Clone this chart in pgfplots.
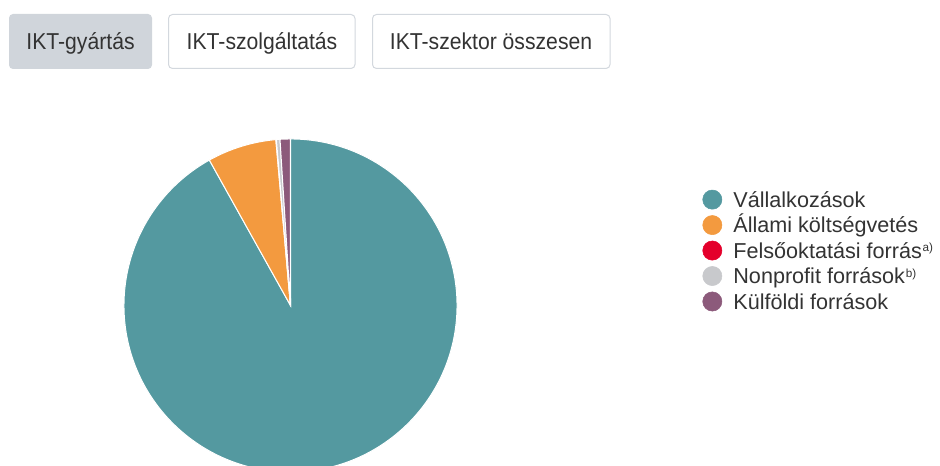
\documentclass[border=0pt]{standalone}
\usepackage{pgfplots}
\pgfplotsset{compat=1.18}
\usepackage{pgfplotstable}
\usepackage{fontspec}
\setmainfont{Liberation Sans}
\newfontfamily\btnfont[FakeStretch=0.92]{Liberation Sans}

\definecolor{cteal}{HTML}{5499A0}
\definecolor{corange}{HTML}{F39A3F}
\definecolor{cred}{HTML}{E4002B}
\definecolor{cgray}{HTML}{C8C9CC}
\definecolor{cpurple}{HTML}{8C5A7B}
\definecolor{ctext}{HTML}{333333}
\definecolor{btnfill}{HTML}{D0D5DB}
\definecolor{btnline}{HTML}{D3D8DE}

% shares (%) of the IKT-gyartas R&D funding sources
\pgfplotstableread{
share
91.9
6.7
0.05
0.35
1.0
}\sharetable

\newcommand\getshare[2]{\pgfplotstablegetelem{#1}{share}\of\sharetable\global\let#2\pgfplotsretval}
\getshare{0}\sA \getshare{1}\sB \getshare{2}\sC \getshare{3}\sD \getshare{4}\sE
\pgfmathsetmacro\total{\sA+\sB+\sC+\sD+\sE}
% angles: start at top, clockwise
\pgfmathsetmacro\aA{90}
\pgfmathsetmacro\aB{\aA-3.6*(\sA/\total)*100}
\pgfmathsetmacro\aC{\aB-3.6*(\sB/\total)*100}
\pgfmathsetmacro\aD{\aC-3.6*(\sC/\total)*100}
\pgfmathsetmacro\aE{\aD-3.6*(\sD/\total)*100}
\pgfmathsetmacro\aF{\aE-3.6*(\sE/\total)*100}

% pie centre and radius in px (1px = 0.75pt)
\def\cx{290.5}
\def\cy{160.5}
\def\R{124.9pt}
\newcommand\slice[3]{\fill[#3,draw=white,line width=0.75pt] (axis cs:\cx,\cy) -- ++(#1:\R) arc[start angle=#1,end angle=#2,radius=\R] -- cycle;}

\newcommand\sups[1]{\hspace{0.6pt}\raisebox{5pt}{\fontsize{8.8pt}{8.8pt}\selectfont #1}}

\begin{document}
\begin{tikzpicture}
\begin{axis}[
  x=0.75pt, y=0.75pt, scale only axis,
  xmin=0, xmax=940, ymin=0, ymax=466,
  hide axis, clip=true,
  legend style={at={(axis cs:702.2,276.5)}, anchor=north west, draw=none, fill=none,
    inner sep=0pt, row sep=4.3pt, column sep=8.4pt, text=ctext,
    font=\fontsize{16.2pt}{18pt}\selectfont,
    nodes={inner sep=0pt, text height=11.5pt, text depth=0pt}},
  legend cell align=left,
]
\slice{\aA}{\aB}{cteal}
\slice{\aB}{\aC}{corange}
\slice{\aC}{\aD}{cred}
\slice{\aD}{\aE}{cgray}
\slice{\aE}{\aF}{cpurple}

\addlegendimage{legend image code/.code={\fill[cteal] (0pt,0pt) circle (7.2pt);}}
\addlegendentry{Vállalkozások}
\addlegendimage{legend image code/.code={\fill[corange] (0pt,0pt) circle (7.2pt);}}
\addlegendentry{Állami költségvetés}
\addlegendimage{legend image code/.code={\fill[cred] (0pt,0pt) circle (7.2pt);}}
\addlegendentry{Felsőoktatási forrás\sups{a)}}
\addlegendimage{legend image code/.code={\fill[cgray] (0pt,0pt) circle (7.2pt);}}
\addlegendentry{Nonprofit források\sups{b)}}
\addlegendimage{legend image code/.code={\fill[cpurple] (0pt,0pt) circle (7.2pt);}}
\addlegendentry{Külföldi források}

% selector buttons
\fill[btnfill,rounded corners=3pt] (axis cs:9,452) rectangle (axis cs:152,397);
\draw[btnline,fill=white,line width=0.75pt,rounded corners=3pt] (axis cs:168.5,451.5) rectangle (axis cs:355,397.5);
\draw[btnline,fill=white,line width=0.75pt,rounded corners=3pt] (axis cs:372.5,451.5) rectangle (axis cs:610,397.5);
\node[anchor=base,inner sep=0pt,text=ctext,font=\btnfont\fontsize{17.25pt}{20pt}\selectfont] at (axis cs:80.5,416) {IKT-gyártás};
\node[anchor=base,inner sep=0pt,text=ctext,font=\btnfont\fontsize{17.25pt}{20pt}\selectfont] at (axis cs:262,416) {IKT-szolgáltatás};
\node[anchor=base,inner sep=0pt,text=ctext,font=\btnfont\fontsize{17.25pt}{20pt}\selectfont] at (axis cs:491,416) {IKT-szektor összesen};
\end{axis}
\pgfresetboundingbox
\path (current axis.south west) rectangle (current axis.north east);
\end{tikzpicture}
\end{document}
